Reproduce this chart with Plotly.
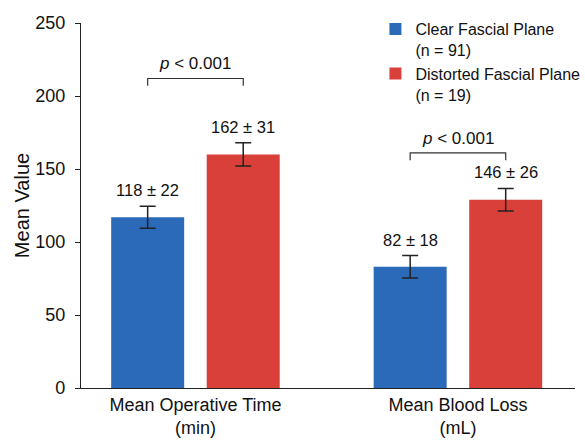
import plotly.graph_objects as go

categories = ["Mean Operative Time<br>(min)", "Mean Blood Loss<br>(mL)"]
groups = ["Clear Fascial Plane<br>(n = 91)", "Distorted Fascial Plane<br>(n = 19)"]
clear_means = [117, 83]
clear_err = [7.5, 7.7]
distorted_means = [160, 129]
distorted_err = [8, 7.7]
clear_labels = ["118 ± 22", "82 ± 18"]
distorted_labels = ["162 ± 31", "146 ± 26"]
p_labels = ["<i>p</i> &lt; 0.001", "<i>p</i> &lt; 0.001"]
bracket_y = [212, 161]
yticks = [0, 50, 100, 150, 200, 250]

BLUE = "#2b69b9"
RED = "#d9403a"
FONT = "Liberation Sans, Arial, sans-serif"
x = list(range(len(categories)))
bargap = 0.272
bargroupgap = 0.236
slot = (1 - bargap) / 2
off = slot / 2

fig = go.Figure()
fig.add_trace(go.Bar(
    x=x, y=clear_means, name=groups[0], marker_color=BLUE, marker_line_width=0,
    error_y=dict(type="data", array=clear_err, color="#222222", thickness=1.5, width=8),
))
fig.add_trace(go.Bar(
    x=x, y=distorted_means, name=groups[1], marker_color=RED, marker_line_width=0,
    error_y=dict(type="data", array=distorted_err, color="#222222", thickness=1.5, width=8),
))

annotations = []
for i in x:
    annotations.append(dict(x=i - off, y=clear_means[i] + clear_err[i], text=clear_labels[i],
                            showarrow=False, yanchor="bottom", yshift=5,
                            font=dict(size=16.5, color="#111111", family=FONT)))
    annotations.append(dict(x=i + off, y=distorted_means[i] + distorted_err[i], text=distorted_labels[i],
                            showarrow=False, yanchor="bottom", yshift=5,
                            font=dict(size=16.5, color="#111111", family=FONT)))
    annotations.append(dict(x=i, y=bracket_y[i], text=p_labels[i], showarrow=False,
                            yanchor="bottom", yshift=3,
                            font=dict(size=17, color="#111111", family=FONT)))

shapes = []
for i in x:
    y0 = bracket_y[i]
    shapes.append(dict(type="path", xref="x", yref="y",
                       path=f"M {i-off},{y0-5} L {i-off},{y0} L {i+off},{y0} L {i+off},{y0-5}",
                       line=dict(color="#333333", width=1.2)))

fig.update_layout(
    width=585, height=442,
    margin=dict(l=81, r=10, t=23, b=54, autoexpand=False),
    paper_bgcolor="white", plot_bgcolor="white",
    barmode="group", bargap=bargap, bargroupgap=bargroupgap,
    font=dict(family=FONT, color="#111111"),
    showlegend=True,
    legend=dict(x=0.596, y=1.03, xanchor="left", yanchor="top", valign="top",
                font=dict(size=16, family=FONT, color="#111111"),
                bgcolor="rgba(0,0,0,0)", tracegroupgap=0),
    annotations=annotations,
    shapes=shapes,
    xaxis=dict(range=[-0.436, 1.446], tickvals=x, ticktext=categories, automargin=False,
               showline=True, linecolor="#222222", linewidth=1.2,
               ticks="", showgrid=False, zeroline=False,
               tickfont=dict(size=18, family=FONT, color="#111111")),
    yaxis=dict(range=[0, 250], tickvals=yticks, showline=True, linecolor="#222222",
               linewidth=1.2, ticks="outside", ticklen=5, tickcolor="#222222", automargin=False,
               showgrid=False, zeroline=False, ticklabelstandoff=6,
               tickfont=dict(size=18, family=FONT, color="#111111"),
               title=dict(text="Mean Value", standoff=0,
                          font=dict(size=20, family=FONT, color="#111111"))),
)

fig.write_html("out.html", config={"displayModeBar": False},
               post_script="document.body.style.margin='0';")
